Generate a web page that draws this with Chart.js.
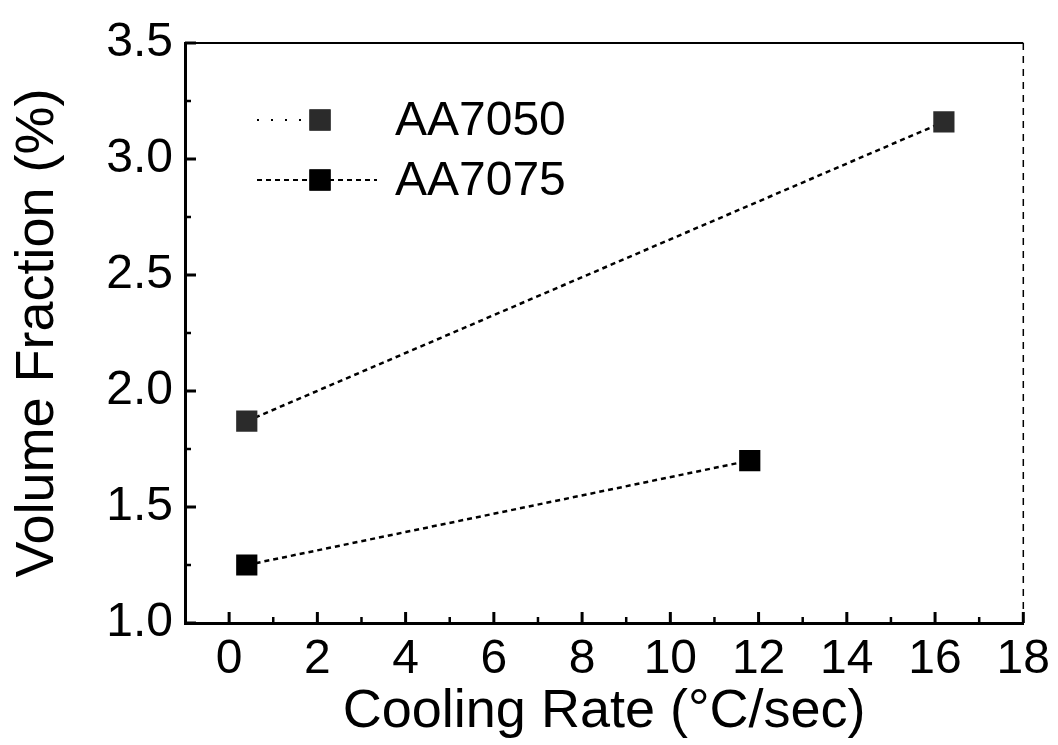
<!DOCTYPE html>
<html>
<head>
<meta charset="utf-8">
<script src="https://cdn.jsdelivr.net/npm/chart.js@4.4.1/dist/chart.umd.min.js"></script>
<style>
  html, body { margin: 0; padding: 0; background: #fff; }
  canvas { display: block; }
</style>
</head>
<body>
<canvas id="chartcanvas" width="1058" height="745"></canvas>
<script>
const fontFamily = "'Liberation Sans', Arial, sans-serif";

// values
const seriesNames = ['AA7050', 'AA7075'];
const aa7050Rate = [0.4, 16.2];
const aa7050Fraction = [1.87, 3.16];
const aa7075Rate = [0.4, 11.8];
const aa7075Fraction = [1.25, 1.70];

const xTickValues = [0, 2, 4, 6, 8, 10, 12, 14, 16, 18];
const xMinorValues = [1, 3, 5, 7, 9, 11, 13, 15, 17];
const yTickValues = [1.0, 1.5, 2.0, 2.5, 3.0, 3.5];
const yMinorValues = [1.25, 1.75, 2.25, 2.75, 3.25];

function setData(x, y) {
  let data = [];
  for (var i = 0; i < x.length; i++) {
    data.push({x: x[i], y: y[i]});
  }
  return data;
}

// inward ticks + top/right frame
const frameTicks = {
  id: 'frameTicks',
  afterDraw(chart) {
    const ctx = chart.ctx;
    const area = chart.chartArea;
    const xs = chart.scales.x, ys = chart.scales.y;
    ctx.save();
    ctx.strokeStyle = '#000';
    ctx.lineWidth = 3;
    xTickValues.forEach(v => {
      const px = xs.getPixelForValue(v);
      ctx.beginPath(); ctx.moveTo(px, area.bottom); ctx.lineTo(px, area.bottom - 11); ctx.stroke();
    });
    yTickValues.forEach(v => {
      const py = ys.getPixelForValue(v);
      ctx.beginPath(); ctx.moveTo(area.left, py); ctx.lineTo(area.left + 11, py); ctx.stroke();
    });
    ctx.lineWidth = 2.5;
    xMinorValues.forEach(v => {
      const px = xs.getPixelForValue(v);
      ctx.beginPath(); ctx.moveTo(px, area.bottom); ctx.lineTo(px, area.bottom - 6); ctx.stroke();
    });
    yMinorValues.forEach(v => {
      const py = ys.getPixelForValue(v);
      ctx.beginPath(); ctx.moveTo(area.left, py); ctx.lineTo(area.left + 6, py); ctx.stroke();
    });
    // top border
    ctx.lineWidth = 2;
    ctx.beginPath(); ctx.moveTo(area.left, area.top); ctx.lineTo(area.right, area.top); ctx.stroke();
    // right border, broken
    ctx.lineWidth = 1.5;
    ctx.setLineDash([7, 6]);
    ctx.beginPath(); ctx.moveTo(area.right, area.top); ctx.lineTo(area.right, area.bottom); ctx.stroke();
    ctx.restore();
  }
};

// legend inside the plot, upper left
const insideLegend = {
  id: 'insideLegend',
  afterDraw(chart) {
    const ctx = chart.ctx;
    const area = chart.chartArea;
    const rows = [
      {y: area.top + 77, x0: area.left + 72, x1: area.left + 130, dash: [2, 12]},
      {y: area.top + 137, x0: area.left + 72, x1: area.left + 192, dash: [5, 4]}
    ];
    const markerX = area.left + 135;
    ctx.save();
    chart.data.datasets.forEach((ds, i) => {
      const r = rows[i];
      ctx.strokeStyle = '#000';
      ctx.lineWidth = 2;
      ctx.setLineDash(r.dash);
      ctx.beginPath(); ctx.moveTo(r.x0, r.y); ctx.lineTo(r.x1, r.y); ctx.stroke();
      ctx.setLineDash([]);
      ctx.fillStyle = ds.pointBackgroundColor;
      Chart.helpers.drawPoint(ctx, {pointStyle: 'rect', radius: ds.pointRadius, borderWidth: 0}, markerX, r.y);
      ctx.fill();
      ctx.fillStyle = '#000';
      ctx.font = '48px ' + fontFamily;
      ctx.textBaseline = 'middle';
      ctx.fillText(ds.label, area.left + 210, r.y + 2);
    });
    ctx.restore();
  }
};

const ctx = document.getElementById('chartcanvas').getContext('2d');

const chart = new Chart(ctx, {
  type: 'scatter',
  data: {
    datasets: [{
      label: seriesNames[0],
      data: setData(aa7050Rate, aa7050Fraction),
      showLine: true,
      borderColor: '#000',
      borderWidth: 2.5,
      borderDash: [5, 4],
      pointStyle: 'rect',
      pointRadius: 15,
      pointBorderWidth: 0,
      pointBackgroundColor: '#2b2b2b'
    }, {
      label: seriesNames[1],
      data: setData(aa7075Rate, aa7075Fraction),
      showLine: true,
      borderColor: '#000',
      borderWidth: 2.5,
      borderDash: [5, 4],
      pointStyle: 'rect',
      pointRadius: 15,
      pointBorderWidth: 0,
      pointBackgroundColor: '#000'
    }]
  },
  options: {
    responsive: false,
    animation: false,
    layout: {padding: {top: 43, right: 32, left: 0, bottom: 0}},
    plugins: {
      legend: {display: false},
      tooltip: {enabled: false}
    },
    scales: {
      x: {
        type: 'linear',
        min: -1,
        max: 18,
        afterBuildTicks: s => { s.ticks = xTickValues.map(v => ({value: v})); },
        afterFit: s => { s.height = 122; },
        grid: {display: false, drawTicks: false},
        border: {display: true, color: '#000', width: 3},
        ticks: {
          color: '#000',
          autoSkip: false,
          maxRotation: 0,
          padding: 8,
          font: {family: fontFamily, size: 48}
        },
        title: {
          display: true,
          text: 'Cooling Rate (\u00B0C/sec)',
          color: '#000',
          font: {family: fontFamily, size: 54},
          padding: {top: 0, bottom: 0}
        }
      },
      y: {
        type: 'linear',
        min: 1.0,
        max: 3.5,
        afterBuildTicks: s => { s.ticks = yTickValues.map(v => ({value: v})); },
        afterFit: s => { s.width = 185; },
        grid: {display: false, drawTicks: false},
        border: {display: true, color: '#000', width: 3},
        ticks: {
          color: '#000',
          padding: 12,
          font: {family: fontFamily, size: 48},
          callback: v => v.toFixed(1)
        },
        title: {
          display: true,
          text: 'Volume Fraction (%)',
          color: '#000',
          font: {family: fontFamily, size: 54},
          padding: {top: 6, bottom: 0}
        }
      }
    }
  },
  plugins: [frameTicks, insideLegend]
});
</script>
</body>
</html>
